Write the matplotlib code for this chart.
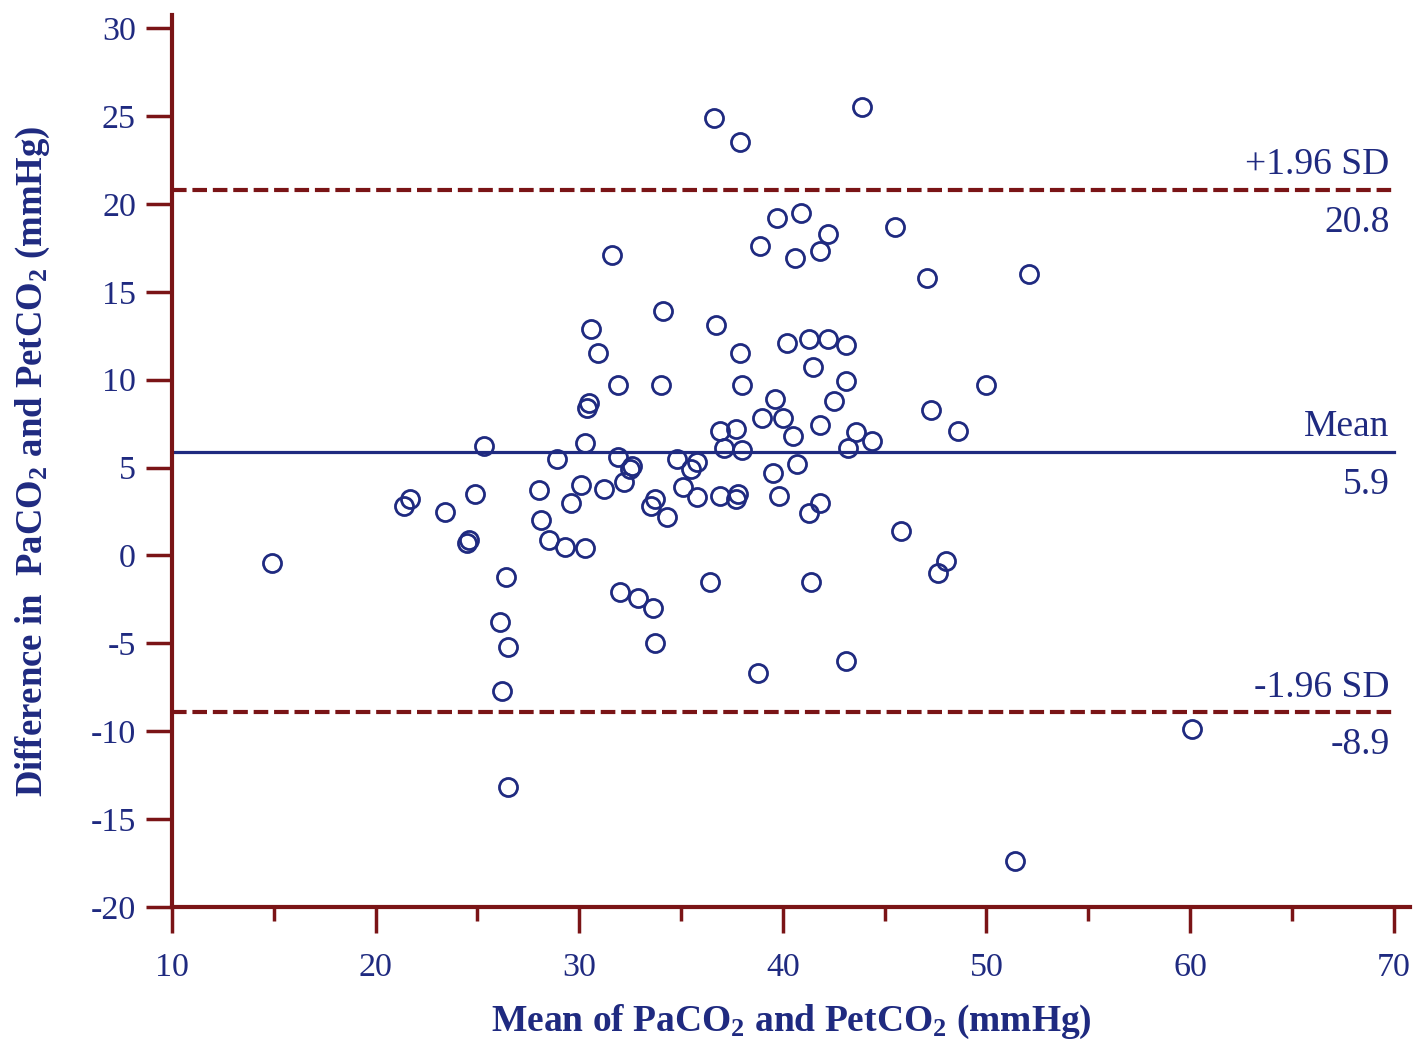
import matplotlib
matplotlib.use("Agg")
import matplotlib.pyplot as plt

# Bland-Altman data: mean of PaCO2/PetCO2 vs difference
mean_vals = [14.9, 21.4, 21.7, 23.4, 24.9, 24.5, 24.6, 25.3, 26.4, 26.1,
             26.5, 26.2, 26.5, 28.0, 28.1, 28.5, 28.9, 29.3, 29.6, 30.1,
             30.3, 30.3, 30.4, 30.5, 30.6, 30.9, 31.2, 31.6, 31.9, 31.9,
             32.0, 32.2, 32.6, 32.5, 32.9, 33.6, 33.5, 33.7, 33.7, 34.0,
             34.1, 34.3, 36.6, 37.9, 43.9, 39.7, 40.9, 42.2, 41.8, 38.9,
             40.6, 45.5, 47.1, 52.1, 36.7, 37.9, 40.2, 41.3, 42.2, 43.1,
             41.5, 43.1, 50.0, 38.0, 39.6, 42.5, 47.3, 39.0, 40.0, 48.6,
             36.9, 37.7, 40.5, 41.8, 43.6, 44.4, 43.2, 37.1, 38.0, 34.8,
             35.8, 40.7, 39.5, 35.5, 35.1, 35.8, 36.9, 37.8, 37.7, 39.8,
             41.8, 41.3, 45.8, 48.0, 47.6, 36.4, 41.4, 38.8, 43.1, 51.4,
             60.1]
diff_vals = [-0.4, 2.8, 3.2, 2.5, 3.5, 0.7, 0.9, 6.2, -1.2, -3.8,
             -5.2, -7.7, -13.2, 3.7, 2.0, 0.9, 5.5, 0.5, 3.0, 4.0,
             0.4, 6.4, 8.4, 8.7, 12.9, 11.5, 3.8, 17.1, 9.7, 5.6,
             -2.1, 4.2, 5.1, 4.9, -2.4, -3.0, 2.8, 3.2, -5.0, 9.7,
             13.9, 2.2, 24.9, 23.5, 25.5, 19.2, 19.5, 18.3, 17.3, 17.6,
             16.9, 18.7, 15.8, 16.0, 13.1, 11.5, 12.1, 12.3, 12.3, 12.0,
             10.7, 9.9, 9.7, 9.7, 8.9, 8.8, 8.3, 7.8, 7.8, 7.1,
             7.1, 7.2, 6.8, 7.4, 7.0, 6.5, 6.1, 6.1, 6.0, 5.5,
             5.3, 5.2, 4.7, 4.9, 3.9, 3.3, 3.4, 3.5, 3.2, 3.4,
             3.0, 2.4, 1.4, -0.3, -1.0, -1.5, -1.5, -6.7, -6.0, -17.4,
             -9.9]

mean_diff = 5.9
upper_loa = 20.8
lower_loa = -8.9

navy = "#1f2a80"
maroon = "#7a1416"

plt.rcParams["font.family"] = ["Liberation Serif", "DejaVu Serif"]
plt.rcParams["mathtext.fontset"] = "custom"
plt.rcParams["mathtext.rm"] = "Liberation Serif:bold"
plt.rcParams["mathtext.bf"] = "Liberation Serif:bold"
plt.rcParams["mathtext.default"] = "rm"
plt.rcParams["axes.unicode_minus"] = False

fig = plt.figure(figsize=(14.28, 10.44), dpi=100)
ax = fig.add_axes([172 / 1428, 1 - 907 / 1044, (1410 - 172) / 1428, (907 - 15) / 1044])

ax.plot(mean_vals, diff_vals, linestyle="none", marker="o", markersize=13,
        markerfacecolor="none", markeredgecolor=navy, markeredgewidth=2.0, zorder=3)

# limit lines
ax.plot([10, 70], [upper_loa, upper_loa], color=maroon, lw=3, dashes=(3.5, 1.4))
ax.plot([10, 70], [lower_loa, lower_loa], color=maroon, lw=3, dashes=(3.5, 1.4))
ax.plot([10, 70], [mean_diff, mean_diff], color=navy, lw=2.3)

lab = dict(color=navy, fontsize=27, ha="right", va="center")
ax.text(69.8, upper_loa + 1.45, "+1.96 SD", **lab)
ax.text(69.8, upper_loa - 1.85, "%.1f" % upper_loa, **lab)
ax.text(69.8, mean_diff + 1.4, "Mean", **lab)
ax.text(69.8, mean_diff - 1.85, "%.1f" % mean_diff, **lab)
ax.text(69.8, lower_loa + 1.4, "-1.96 SD", **lab)
ax.text(69.8, lower_loa - 1.85, "%.1f" % lower_loa, **lab)

ax.set_xlim(10, 70.8)
ax.set_ylim(-20, 30.75)
ax.set_xticks(range(10, 71, 10))
ax.set_xticks(range(15, 70, 10), minor=True)
ax.set_yticks(range(-20, 31, 5))

for s in ["top", "right"]:
    ax.spines[s].set_visible(False)
for s in ["left", "bottom"]:
    ax.spines[s].set_color(maroon)
    ax.spines[s].set_linewidth(3)

ax.tick_params(axis="both", which="major", colors=maroon, width=2.5, length=19,
               labelcolor=navy, labelsize=24.5)
ax.tick_params(axis="x", which="minor", colors=maroon, width=2.5, length=10)
ax.tick_params(axis="x", pad=14)
ax.tick_params(axis="y", pad=7)

ax.set_xlabel("Mean of PaCO$_2$ and PetCO$_2$ (mmHg)", color=navy, fontsize=27,
              fontweight="bold", labelpad=14)
ax.set_ylabel("Difference in  PaCO$_2$ and PetCO$_2$ (mmHg)", color=navy, fontsize=26.5,
              fontweight="bold", labelpad=28)

fig.savefig("out.png", dpi=100)
